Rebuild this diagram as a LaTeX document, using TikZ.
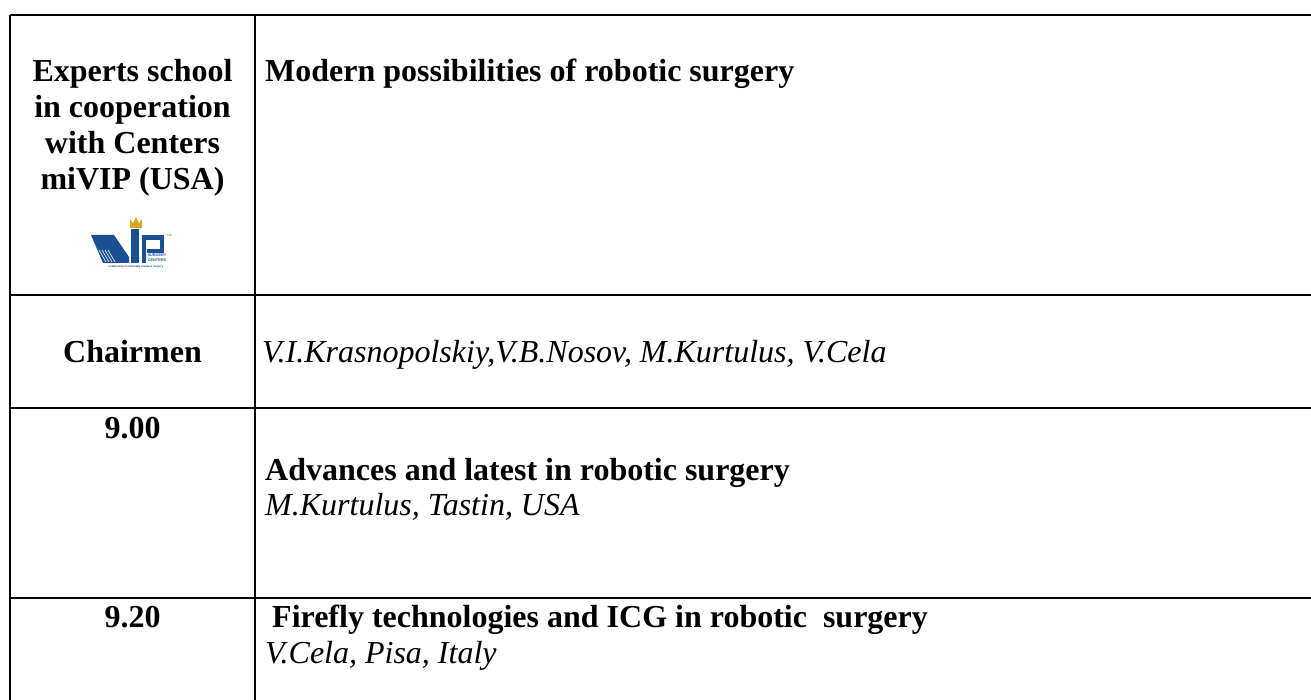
\documentclass[tikz,border=0pt]{standalone}
\usepackage{fontspec}
\setmainfont{Liberation Serif}
\newfontfamily\logofont{Liberation Sans}
\definecolor{vipblue}{HTML}{1B4F93}
\definecolor{vipgold}{HTML}{D9A520}
\begin{document}
\begin{tikzpicture}[x=1pt,y=-1pt,
  grid/.style={line width=2.2pt,black},
  bt/.style={font=\fontsize{32}{36}\selectfont\bfseries,inner sep=0pt},
  it/.style={font=\fontsize{32}{36}\selectfont\itshape,inner sep=0pt},
  tiny/.style={font=\logofont\fontsize{3.8}{4}\selectfont\bfseries,text=vipblue,inner sep=0pt}]
\useasboundingbox[fill=white] (0,0) rectangle (1311,700);
% table rules
\draw[grid] (10,15) -- (1311,15);
\draw[grid] (10,295) -- (1311,295);
\draw[grid] (10,408) -- (1311,408);
\draw[grid] (10,598) -- (1311,598);
\draw[grid] (10,15) -- (10,700);
\draw[grid] (255,15) -- (255,700);
% header left
\node[bt,anchor=base] (h1) at (132.5,82) {Experts school};
\node[bt,anchor=base] (h2) at (132.5,118) {in cooperation};
\node[bt,anchor=base] (h3) at (132.5,154) {with Centers};
\node[bt,anchor=base] (h4) at (132.5,190) {miVIP (USA)};
% logo
\fill[vipgold] (130,228) -- (130,219) -- (133,223.5) -- (136,217) -- (139,223.5) -- (142,219) -- (142,228) -- cycle;
\fill[vipblue] (91,235) -- (114,235) -- (129,257) -- (129,263) -- (103,263) -- cycle;
\draw[white,line width=0.6pt] (99,250) -- (106,262) (102,250) -- (109,262) (105,250) -- (112,262) (108,250) -- (115,262);
\fill[vipblue] (131,229) rectangle (139,263);
\draw[vipblue,line width=4.5pt] (144,263) -- (144,237.5) -- (162,237.5) -- (162,251) -- (147,251);
\node[tiny,anchor=base] (lg1) at (157,257) {SURGERY};
\node[tiny,anchor=base] (lg2) at (157,261.5) {CENTERS};
\node[tiny,font=\logofont\fontsize{2.8}{3}\selectfont\bfseries,anchor=base] (lg3) at (136,268) {Leadership in minimally invasive surgery};
\node[tiny,font=\logofont\fontsize{3}{3}\selectfont,anchor=base west] (tm) at (167,237) {TM};
% header right
\node[bt,anchor=base west] (title) at (265,82) {Modern possibilities of robotic surgery};
% chairmen row
\node[bt,anchor=base] (ch) at (132.5,362) {Chairmen};
\node[it,anchor=base west] (chn) at (262,362) {V.I.Krasnopolskiy,V.B.Nosov, M.Kurtulus, V.Cela};
% 9.00 row
\node[bt,anchor=base] (t1) at (132.5,438) {9.00};
\node[bt,anchor=base west] (a1) at (265,480) {Advances and latest in robotic surgery};
\node[it,anchor=base west] (a2) at (265,515) {M.Kurtulus, Tastin, USA};
% 9.20 row
\node[bt,anchor=base] (t2) at (132.5,627) {9.20};
\node[bt,anchor=base west] (b1) at (272,627) {Firefly technologies and ICG in robotic\ \ surgery};
\node[it,anchor=base west] (b2) at (265,663) {V.Cela, Pisa, Italy};
\end{tikzpicture}
\end{document}
